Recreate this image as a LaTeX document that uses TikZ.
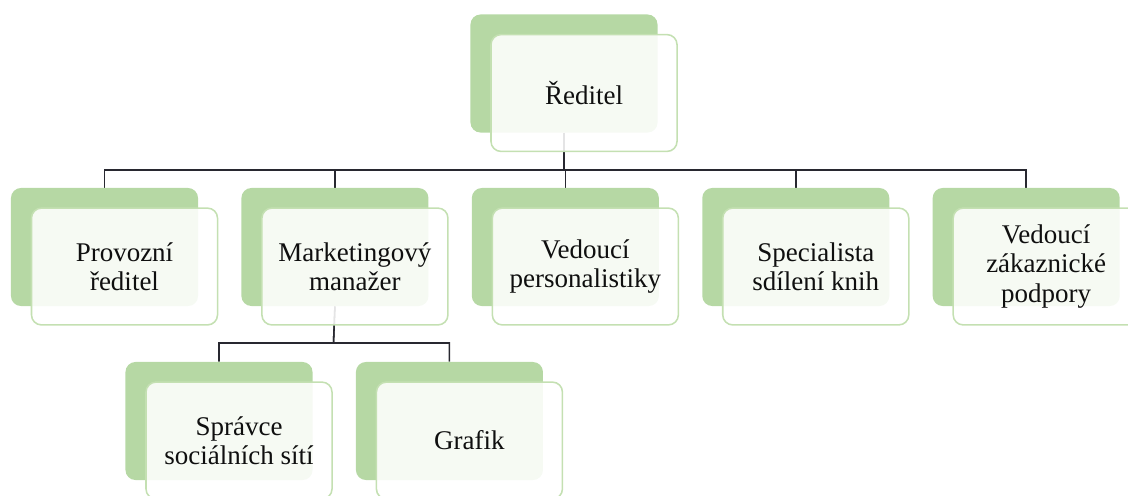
\documentclass[tikz,border=0pt]{standalone}
\usepackage{fontspec}
\setmainfont{Liberation Serif}
\newfontfamily\cardfont{Liberation Serif}
\usepackage{tikz}
\usetikzlibrary{positioning, backgrounds}
\definecolor{backgreen}{RGB}{182,216,164}
\definecolor{frontline}{RGB}{196,224,178}
\definecolor{linkgray}{RGB}{40,40,48}
\definecolor{textblack}{RGB}{15,15,15}
\tikzset{
  back/.style={rectangle, rounded corners=0.25cm, minimum width=4.675cm,
    minimum height=2.95cm, fill=backgreen, draw=none},
  front/.style={rectangle, rounded corners=0.25cm, minimum width=4.65cm,
    minimum height=2.92cm, fill=white, fill opacity=0.88, text opacity=1,
    draw=frontline, draw opacity=1, line width=1.1pt, align=center,
    font=\cardfont\fontsize{19.2}{20.8}\selectfont, text=textblack},
  link/.style={draw=linkgray, line width=1.1pt},
}

\begin{document}
\begin{tikzpicture}[x=0.025cm, y=-0.025cm]
  \useasboundingbox (0,0) rectangle (1128,495);
  \clip (0,0) rectangle (1128,495);
  % top
  \node[back] (ceob) at (564,73.5) {};
  % second row
  \node[back] (provb) at (104.5,247) {};
  \node[back, right=1.07cm of provb] (mktb) {};
  \node[back, right=1.07cm of mktb] (hrb) {};
  \node[back, right=1.07cm of hrb] (bookb) {};
  \node[back, right=1.07cm of bookb] (supb) {};
  % third row
  \node[back] (socb) at (219,421) {};
  \node[back, right=1.07cm of socb] (grafb) {};
  % front cards with the texts
  \node[front] (ceo) at ([shift={(20,19.5)}]ceob.center) {Ředitel};
  \node[front] (prov) at ([shift={(20,19.5)}]provb.center) {Provozní\\ředitel};
  \node[front] (mkt) at ([shift={(20,19.5)}]mktb.center) {Marketingový\\manažer};
  \node[front] (hr) at ([shift={(20,19.5)}]hrb.center) {Vedoucí\\personalistiky};
  \node[front] (book) at ([shift={(20,19.5)}]bookb.center) {Specialista\\sdílení knih};
  \node[front] (sup) at ([shift={(20,19.5)}]supb.center) {Vedoucí\\zákaznické\\podpory};
  \node[front] (soc) at ([shift={(20,19.5)}]socb.center) {Správce\\sociálních sítí};
  \node[front] (graf) at ([shift={(20,19.5)}]grafb.center) {Grafik};
  % connectors
  \begin{scope}[on background layer]
    \coordinate (busa) at (564,170);
    \coordinate (busb) at (333.5,343);
    \foreach \kid in {provb, mktb, hrb, bookb, supb}
      \draw[link] (ceob.south) -- (busa) -| (\kid.north);
    \foreach \kid in {socb, grafb}
      \draw[link] (mktb.south) -- (busb) -| (\kid.north);
  \end{scope}
\end{tikzpicture}
\end{document}
